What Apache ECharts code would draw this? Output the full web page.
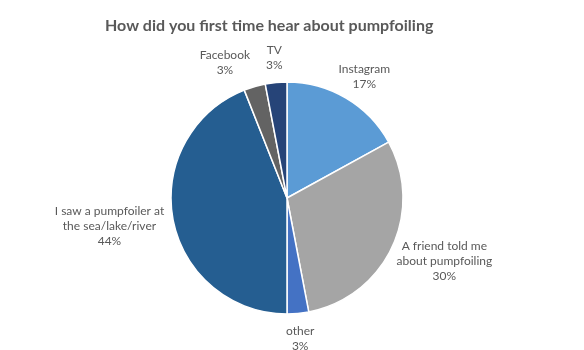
<!DOCTYPE html>
<html>
<head>
<meta charset="utf-8">
<script src="https://cdn.jsdelivr.net/npm/echarts@6/dist/echarts.min.js"></script>
<style>
  html, body { margin: 0; padding: 0; background: #fff; }
  #chart { width: 584px; height: 350px; }
</style>
</head>
<body>
<div id="chart"></div>
<script>
const categories = [
  'Instagram',
  'A friend told me\nabout pumpfoiling',
  'other',
  'I saw a pumpfoiler at\nthe sea/lake/river',
  'Facebook',
  'TV'
];
const shares = [17, 30, 3, 44, 3, 3];
const sliceColors = ['#5b9bd5', '#a5a5a5', '#4472c4', '#255e91', '#636363', '#264478'];

const CX = 287, CY = 198, R = 116;
const LABEL_FONT = '12px Lato', LINE_H = 15, GAP = 10, MARGIN = 16;
const total = shares.reduce((a, b) => a + b, 0);

// measure label text so the boxes can be placed before render
const ctx = document.createElement('canvas').getContext('2d');
ctx.font = LABEL_FONT;
const labelText = (name, v) => name + '\n' + v + '%';

// label box centre: just outside the slice middle, pushed out by the box half size
const labelPos = [];
let acc = 0;
shares.forEach((v, i) => {
  const a = (acc + v / 2) / total * Math.PI * 2;
  acc += v;
  const lines = labelText(categories[i], v).split('\n');
  const w = Math.max(...lines.map(l => ctx.measureText(l).width)) / 2;
  const h = lines.length * LINE_H / 2;
  const dx = Math.sin(a), dy = -Math.cos(a);
  labelPos.push({
    x: CX + (R + GAP) * dx + w * dx,
    y: CY + (R + GAP) * dy + h * dy,
    w: w, h: h
  });
});
// simple overlap fix: move the left one of two clashing labels further left
for (let i = 0; i < labelPos.length; i++) {
  for (let j = 0; j < labelPos.length; j++) {
    const p = labelPos[i], q = labelPos[j];
    if (i === j || p.x > q.x) continue;
    const overlapY = Math.abs(p.y - q.y) < p.h + q.h;
    const need = (p.w + q.w + MARGIN) - (q.x - p.x);
    if (overlapY && need > 0) p.x -= need;
  }
}

const myChart = echarts.init(document.getElementById('chart'));
myChart.setOption({
  animation: false,
  color: sliceColors,
  title: {
    text: 'How did you first time hear about pumpfoiling',
    left: 100,
    top: 13,
    textStyle: {
      fontFamily: 'Lato',
      fontWeight: 'bold',
      fontSize: 16,
      color: '#595959'
    }
  },
  series: [{
    type: 'pie',
    center: [CX, CY],
    radius: [0, R],
    startAngle: 90,
    clockwise: true,
    avoidLabelOverlap: false,
    data: categories.map((c, i) => ({ name: c, value: shares[i] })),
    itemStyle: {
      borderColor: '#fff',
      borderWidth: 1.5
    },
    label: {
      show: true,
      position: 'outside',
      formatter: p => labelText(p.name, p.value),
      fontFamily: 'Lato',
      fontSize: 12,
      lineHeight: LINE_H,
      color: '#595959',
      align: 'center'
    },
    labelLine: { show: false },
    labelLayout: function (params) {
      const p = labelPos[params.dataIndex];
      return { x: p.x, y: p.y, align: 'center', verticalAlign: 'middle' };
    }
  }]
});
</script>
</body>
</html>
